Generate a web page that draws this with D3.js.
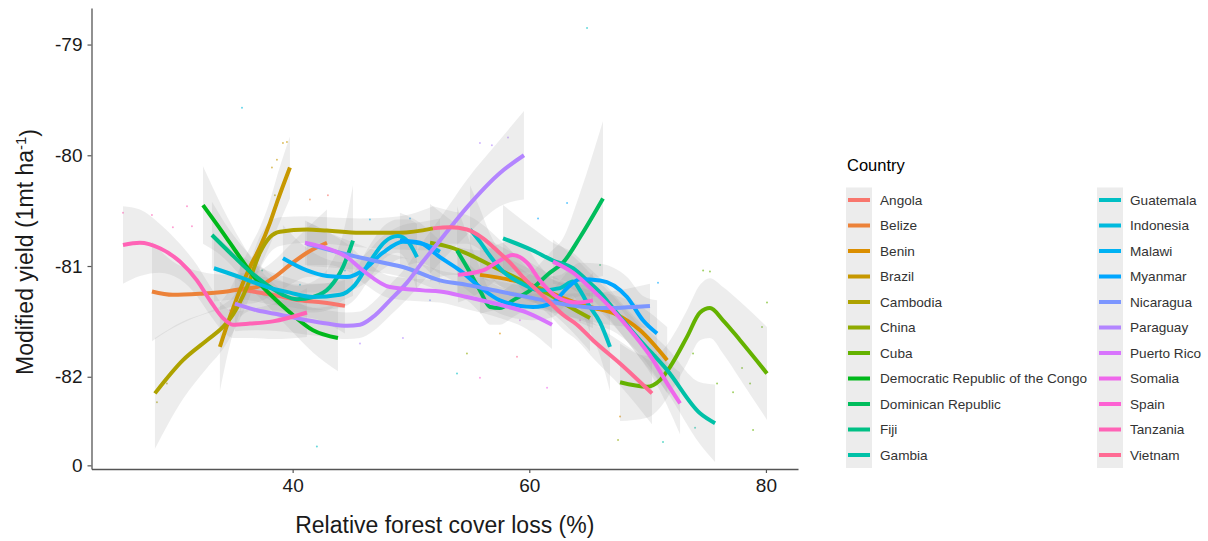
<!DOCTYPE html>
<html>
<head>
<meta charset="utf-8">
<script src="https://cdn.jsdelivr.net/npm/d3@7"></script>
<style>
  body { margin: 0; background: #fff; }
  text { font-family: "Liberation Sans", Arial, sans-serif; }
</style>
</head>
<body>
<script>
// countries, in legend order
var countries = ["Angola", "Belize", "Benin", "Brazil", "Cambodia", "China", "Cuba",
  "Democratic Republic of the Congo", "Dominican Republic", "Fiji", "Gambia",
  "Guatemala", "Indonesia", "Malawi", "Myanmar", "Nicaragua", "Paraguay",
  "Puerto Rico", "Somalia", "Spain", "Tanzania", "Vietnam"]

// smoothed curve per country: x (forest cover loss), y (modified yield), ci half width
var curveX = [
  [35.54, 36.64, 38.33, 40.62, 42.56, 44.42],
  [28.11, 29.88, 32.16, 34.45, 35.54, 36.98, 38.33, 39.77, 41.21, 42.90],
  [55.83, 58.62, 60.90, 62.85, 65.13, 67.41, 69.36, 71.65],
  [33.85, 34.70, 35.54, 36.39, 37.24, 38.08, 38.76, 39.77],
  [28.36, 30.73, 32.76, 34.11, 34.95, 36.14, 37.24, 38.08, 38.93, 41.21, 42.90, 45.69, 49.07, 51.86],
  [51.61, 53.30, 54.99, 56.68, 58.37, 60.06, 61.75, 63.44, 65.13],
  [67.67, 69.95, 71.05, 71.90, 73.33, 74.43, 75.27, 76.37, 77.81, 80.09],
  [32.42, 34.11, 35.54, 36.98, 38.33, 39.77, 41.72, 43.83],
  [53.89, 54.73, 55.83, 56.68, 57.52, 58.62, 60.06, 61.75, 62.85, 64.29, 66.23],
  [33.18, 34.70, 36.39, 37.83, 39.18, 40.36, 41.72, 43.15, 44.25, 45.10],
  [57.78, 60.31, 62.00, 63.69, 64.88, 65.98, 67.67, 69.36, 71.65, 74.43, 75.70],
  [54.99, 55.83, 56.68, 57.78, 59.21, 60.90, 62.60, 63.69, 64.29, 64.88, 65.98, 66.82],
  [33.35, 35.54, 37.83, 39.77, 41.72, 44.00, 45.27, 46.53, 47.80, 48.90, 49.75, 50.51],
  [39.18, 41.21, 42.90, 44.59, 45.94, 47.63, 49.32, 51.01, 52.45],
  [49.07, 50.76, 52.45, 54.14, 55.83, 57.52, 60.31, 62.00, 63.19, 64.29, 65.98, 68.26, 69.61, 70.80],
  [41.21, 44.00, 46.79, 49.66, 52.45, 54.73, 57.52, 60.31, 63.19, 65.98, 70.20],
  [35.12, 36.98, 38.93, 41.21, 42.90, 44.59, 45.69, 46.79, 48.22, 49.66, 51.01, 52.45, 54.73, 57.52, 59.55],
  [41.04, 42.90, 44.59, 45.94, 48.22, 51.01, 52.45, 54.73, 57.52, 59.81, 61.92],
  [62.00, 63.69, 65.38, 67.08, 68.77, 70.46, 71.65, 72.74],
  [53.97, 56.09, 57.52, 58.62, 59.81, 60.90, 62.34, 64.03, 65.38],
  [25.66, 27.09, 28.78, 30.47, 31.91, 33.01, 34.11, 34.95, 36.39, 38.33, 41.21],
  [51.86, 53.30, 54.73, 56.09, 57.27, 58.37, 59.47, 60.65, 61.75, 62.85, 64.03, 65.38, 67.67, 70.37]
]
var curveY = [
  [-81.21, -81.23, -81.26, -81.31, -81.33, -81.36],
  [-81.23, -81.26, -81.25, -81.23, -81.21, -81.19, -81.11, -80.99, -80.88, -80.79],
  [-81.08, -81.13, -81.20, -81.29, -81.37, -81.44, -81.58, -81.85],
  [-81.73, -81.46, -81.22, -81.01, -80.83, -80.61, -80.40, -80.11],
  [-82.15, -81.85, -81.67, -81.55, -81.44, -81.19, -80.88, -80.74, -80.69, -80.67, -80.68, -80.70, -80.70, -80.66],
  [-80.79, -80.83, -80.90, -80.99, -81.08, -81.17, -81.26, -81.37, -81.47],
  [-82.05, -82.09, -82.03, -81.91, -81.64, -81.42, -81.38, -81.49, -81.67, -81.97],
  [-80.45, -80.70, -80.92, -81.13, -81.28, -81.42, -81.58, -81.65],
  [-80.86, -81.01, -81.22, -81.37, -81.38, -81.31, -81.22, -81.06, -80.97, -80.74, -80.39],
  [-80.72, -80.88, -81.05, -81.17, -81.26, -81.30, -81.28, -81.19, -81.01, -80.77],
  [-80.75, -80.86, -80.95, -81.02, -81.13, -81.24, -81.46, -81.67, -81.94, -82.33, -82.42],
  [-80.67, -80.78, -80.91, -81.05, -81.15, -81.22, -81.20, -81.14, -81.22, -81.33, -81.51, -81.73],
  [-81.02, -81.10, -81.19, -81.24, -81.28, -81.26, -81.17, -80.96, -80.78, -80.73, -80.78, -80.92],
  [-80.93, -81.04, -81.09, -81.10, -81.04, -80.88, -80.78, -80.80, -80.87],
  [-80.77, -80.79, -80.92, -81.04, -81.19, -81.31, -81.37, -81.33, -81.20, -81.12, -81.13, -81.28, -81.49, -81.61],
  [-80.80, -80.88, -80.95, -81.02, -81.13, -81.17, -81.23, -81.29, -81.35, -81.38, -81.36],
  [-81.34, -81.40, -81.44, -81.49, -81.52, -81.54, -81.53, -81.46, -81.31, -81.15, -80.96, -80.77, -80.47, -80.16, -80.00],
  [-80.79, -80.84, -80.92, -81.04, -81.19, -81.22, -81.23, -81.28, -81.35, -81.42, -81.53],
  [-80.96, -81.06, -81.22, -81.40, -81.61, -81.85, -82.06, -82.24],
  [-81.08, -81.04, -80.95, -80.90, -80.97, -81.13, -81.28, -81.33, -81.31],
  [-80.81, -80.79, -80.84, -80.96, -81.13, -81.31, -81.47, -81.53, -81.52, -81.50, -81.42],
  [-80.66, -80.65, -80.67, -80.75, -80.86, -80.97, -81.10, -81.22, -81.33, -81.44, -81.53, -81.67, -81.88, -82.15]
]
var curveCI = [
  [0.25, 0.17, 0.14, 0.14, 0.17, 0.25],
  [0.45, 0.3, 0.2, 0.15, 0.14, 0.14, 0.15, 0.18, 0.22, 0.3],
  [0.35, 0.25, 0.18, 0.15, 0.15, 0.17, 0.22, 0.3],
  [0.4, 0.25, 0.2, 0.18, 0.18, 0.2, 0.24, 0.28],
  [0.5, 0.35, 0.25, 0.2, 0.16, 0.15, 0.15, 0.14, 0.13, 0.12, 0.12, 0.13, 0.15, 0.2],
  [0.35, 0.25, 0.18, 0.15, 0.14, 0.14, 0.15, 0.2, 0.3],
  [0.35, 0.28, 0.25, 0.24, 0.24, 0.25, 0.27, 0.3, 0.35, 0.42],
  [0.35, 0.22, 0.16, 0.13, 0.13, 0.15, 0.2, 0.3],
  [0.4, 0.3, 0.2, 0.16, 0.15, 0.15, 0.15, 0.18, 0.22, 0.4, 0.7],
  [0.3, 0.2, 0.15, 0.12, 0.12, 0.12, 0.14, 0.2, 0.3, 0.5],
  [0.3, 0.2, 0.16, 0.14, 0.13, 0.13, 0.14, 0.16, 0.2, 0.28, 0.35],
  [0.4, 0.3, 0.2, 0.15, 0.13, 0.12, 0.12, 0.13, 0.15, 0.2, 0.3, 0.4],
  [0.3, 0.2, 0.15, 0.13, 0.12, 0.12, 0.13, 0.15, 0.15, 0.15, 0.2, 0.3],
  [0.3, 0.2, 0.15, 0.13, 0.13, 0.15, 0.15, 0.2, 0.3],
  [0.25, 0.18, 0.15, 0.13, 0.12, 0.12, 0.12, 0.13, 0.14, 0.15, 0.15, 0.18, 0.22, 0.3],
  [0.2, 0.14, 0.1, 0.09, 0.09, 0.09, 0.09, 0.09, 0.1, 0.14, 0.2],
  [0.25, 0.18, 0.15, 0.13, 0.12, 0.12, 0.12, 0.13, 0.14, 0.15, 0.18, 0.2, 0.25, 0.3, 0.4],
  [0.2, 0.15, 0.12, 0.11, 0.1, 0.1, 0.1, 0.11, 0.12, 0.15, 0.22],
  [0.2, 0.15, 0.13, 0.13, 0.14, 0.16, 0.2, 0.28],
  [0.25, 0.18, 0.15, 0.13, 0.13, 0.13, 0.14, 0.17, 0.25],
  [0.35, 0.3, 0.22, 0.16, 0.14, 0.13, 0.12, 0.12, 0.13, 0.16, 0.22],
  [0.2, 0.15, 0.13, 0.12, 0.12, 0.12, 0.12, 0.12, 0.12, 0.13, 0.14, 0.16, 0.2, 0.28]
]

// raw observations (only the ones readable in the picture)
var dotX = [64.88, 35.72, 42.05, 39.18, 39.52, 38.67, 38.25, 25.66, 28.11, 29.88, 31.07, 31.49,
  28.53, 29.37, 41.46, 42.98, 49.32, 45.69, 49.92, 46.53, 55.83, 56.84, 58.20, 63.19, 60.74,
  58.96, 61.50, 55.83, 53.89, 54.73, 57.52, 74.69, 75.27, 80.09, 79.67, 75.87, 77.22, 78.91,
  67.67, 67.50, 71.30, 74.01, 70.88, 73.84, 77.98, 78.66, 37.42, 40.62, 44.42, 34.70, 51.61,
  59.21, 64.29, 65.98, 32.16, 38.50]
var dotY = [-78.85, -79.57, -82.63, -79.89, -79.88, -80.04, -80.11, -80.52, -80.54, -80.65, -80.46, -80.64,
  -82.23, -82.06, -80.40, -80.36, -81.65, -81.70, -80.57, -80.58, -79.89, -79.91, -79.84, -80.43, -80.57,
  -81.82, -82.10, -82.01, -81.97, -81.79, -81.61, -81.04, -81.05, -81.33, -81.55, -82.06, -82.14, -82.48,
  -82.36, -82.57, -82.59, -82.46, -81.15, -81.79, -81.92, -82.06, -81.04, -81.17, -81.04, -81.40, -81.31,
  -81.49, -81.49, -80.99, -81.71, -80.36]
var dotCountry = ["Guatemala", "Indonesia", "Guatemala", "Brazil", "Brazil", "Brazil", "Brazil",
  "Tanzania", "Tanzania", "Tanzania", "Tanzania", "Tanzania", "Cambodia", "Cambodia", "Belize", "Angola",
  "Paraguay", "Paraguay", "Myanmar", "Malawi", "Paraguay", "Paraguay", "Paraguay", "Myanmar", "Myanmar",
  "Vietnam", "Somalia", "Spain", "Guatemala", "China", "Benin", "Cuba", "Cuba", "Cuba", "Cuba", "Cuba",
  "Cuba", "Cuba", "Benin", "China", "Gambia", "Gambia", "Myanmar", "Cuba", "Cuba", "Cuba", "Fiji",
  "Indonesia", "Malawi", "Tanzania", "Nicaragua", "Puerto Rico", "Somalia", "Dominican Republic",
  "Democratic Republic of the Congo", "Cambodia"]

// y tick values and their printed labels (bottom one is printed as 0)
var yTickValues = [-82.8, -82, -81, -80, -79]
var yTickLabels = ["0", "-82", "-81", "-80", "-79"]
var xTickValues = [40, 60, 80]

var width = 1208
var height = 541
var plot = {left: 91.5, right: 798, top: 8, bottom: 469}

// ggplot default hue palette (polar LUV, c = 100, l = 65)
function hueColor(h) {
  var L = 65, C = 100, hr = h * Math.PI / 180
  var U = C * Math.cos(hr), V = C * Math.sin(hr)
  var Y = 100 * Math.pow((L + 16) / 116, 3)
  var u = U / (13 * L) + 0.1978398, v = V / (13 * L) + 0.4683363
  var X = 9 * Y * u / (4 * v)
  var Z = -X / 3 - 5 * Y + 3 * Y / v
  var lin = [
    3.240479 * X - 1.537150 * Y - 0.498535 * Z,
    -0.969256 * X + 1.875992 * Y + 0.041556 * Z,
    0.055648 * X - 0.204043 * Y + 1.057311 * Z
  ].map(c => c / 100)
  var rgb = lin.map(c => {
    var g = c <= 0.0031308 ? 12.92 * c : 1.055 * Math.pow(c, 1 / 2.4) - 0.055
    return Math.round(Math.max(0, Math.min(1, g)) * 255)
  })
  return d3.rgb(rgb[0], rgb[1], rgb[2]).formatHex()
}

var color = d3.scaleOrdinal()
  .domain(countries)
  .range(countries.map((c, i) => hueColor(15 + i * 360 / countries.length)))

var svg = d3.select("body").append("svg")
  .attr("width", width)
  .attr("height", height)
  .style("background", "#fff")

var xScale = d3.scaleLinear().domain([23, 82.71]).range([plot.left, plot.right])
var yScale = d3.scaleLinear().domain([-82.833, -78.67]).range([plot.bottom, plot.top])

svg.append("clipPath").attr("id", "clip")
  .append("rect")
  .attr("x", plot.left).attr("y", plot.top)
  .attr("width", plot.right - plot.left).attr("height", plot.bottom - plot.top)

var series = countries.map((name, i) => ({
  name: name,
  pts: curveX[i].map((x, j) => ({x: x, y: curveY[i][j], ci: curveCI[i][j]}))
}))

var g = svg.append("g").attr("clip-path", "url(#clip)")

// raw points
g.selectAll(".dot")
  .data(dotX.map((x, i) => ({x: x, y: dotY[i], c: dotCountry[i]})))
  .enter().append("circle")
  .attr("class", "dot")
  .attr("cx", d => xScale(d.x))
  .attr("cy", d => yScale(d.y))
  .attr("r", 1)
  .attr("fill", d => color(d.c))
  .attr("opacity", 0.6)

// confidence ribbons
var area = d3.area()
  .x(d => xScale(d.x))
  .y0(d => yScale(d.y - d.ci))
  .y1(d => yScale(d.y + d.ci))
  .curve(d3.curveMonotoneX)

g.selectAll(".ribbon")
  .data(series)
  .enter().append("path")
  .attr("class", "ribbon")
  .attr("d", d => area(d.pts))
  .attr("fill", "#999999")
  .attr("opacity", 0.18)

// smooth lines
var line = d3.line()
  .x(d => xScale(d.x))
  .y(d => yScale(d.y))
  .curve(d3.curveMonotoneX)

g.selectAll(".smooth")
  .data(series)
  .enter().append("path")
  .attr("class", "smooth")
  .attr("d", d => line(d.pts))
  .attr("fill", "none")
  .attr("stroke", d => color(d.name))
  .attr("stroke-width", 4)
  .attr("stroke-linecap", "butt")

// axes
var xAxis = d3.axisBottom(xScale).tickValues(xTickValues).tickSize(4).tickPadding(6).tickSizeOuter(0)
var yAxis = d3.axisLeft(yScale).tickValues(yTickValues)
  .tickFormat((d, i) => yTickLabels[i]).tickSize(4).tickPadding(5).tickSizeOuter(0)

var gx = svg.append("g")
  .attr("transform", `translate(0,${plot.bottom})`)
  .call(xAxis)
var gy = svg.append("g")
  .attr("transform", `translate(${plot.left},0)`)
  .call(yAxis)

;[gx, gy].forEach(a => {
  a.select(".domain").attr("stroke", "#555").attr("stroke-width", 1.3)
  a.selectAll(".tick line").attr("stroke", "#555").attr("stroke-width", 1.2)
  a.selectAll(".tick text")
    .attr("fill", "#1a1a1a")
    .style("font-size", "19px")
    .style("font-family", "'Liberation Sans', Arial, sans-serif")
})

// axis titles
svg.append("text")
  .attr("x", (plot.left + plot.right) / 2)
  .attr("y", 533)
  .attr("text-anchor", "middle")
  .attr("fill", "#1a1a1a")
  .style("font-size", "23px")
  .text("Relative forest cover loss (%)")

var yt = svg.append("text")
  .attr("transform", "translate(33,252) rotate(-90)")
  .attr("text-anchor", "middle")
  .attr("fill", "#1a1a1a")
  .style("font-size", "23px")
yt.append("tspan").text("Modified yield (1mt ha")
yt.append("tspan").attr("dy", "-0.45em").style("font-size", "15px").text("-1")
yt.append("tspan").attr("dy", "0.45em").text(")")

// legend
svg.append("text")
  .attr("x", 847)
  .attr("y", 171)
  .attr("fill", "#000")
  .style("font-size", "16.5px")
  .text("Country")

var perCol = Math.ceil(countries.length / 2)
var legCols = [{keyX: 846, textX: 880}, {keyX: 1097, textX: 1130}]

legCols.forEach((col, ci) => {
  svg.append("rect")
    .attr("x", col.keyX).attr("y", 187.5)
    .attr("width", 26).attr("height", perCol * 25.5)
    .attr("fill", "#ececec")
})

var legend = svg.selectAll(".legend")
  .data(countries)
  .enter().append("g")
  .attr("class", "legend")
  .attr("transform", (d, i) => {
    var col = legCols[Math.floor(i / perCol)]
    return `translate(${col.keyX},${200 + (i % perCol) * 25.5})`
  })

legend.append("line")
  .attr("x1", 2).attr("x2", 24)
  .attr("stroke", d => color(d))
  .attr("stroke-width", 4)

legend.append("text")
  .attr("x", (d, i) => legCols[Math.floor(i / perCol)].textX - legCols[Math.floor(i / perCol)].keyX)
  .attr("dy", "0.35em")
  .attr("fill", "#333")
  .style("font-size", "13.6px")
  .text(d => d)
</script>
</body>
</html>
